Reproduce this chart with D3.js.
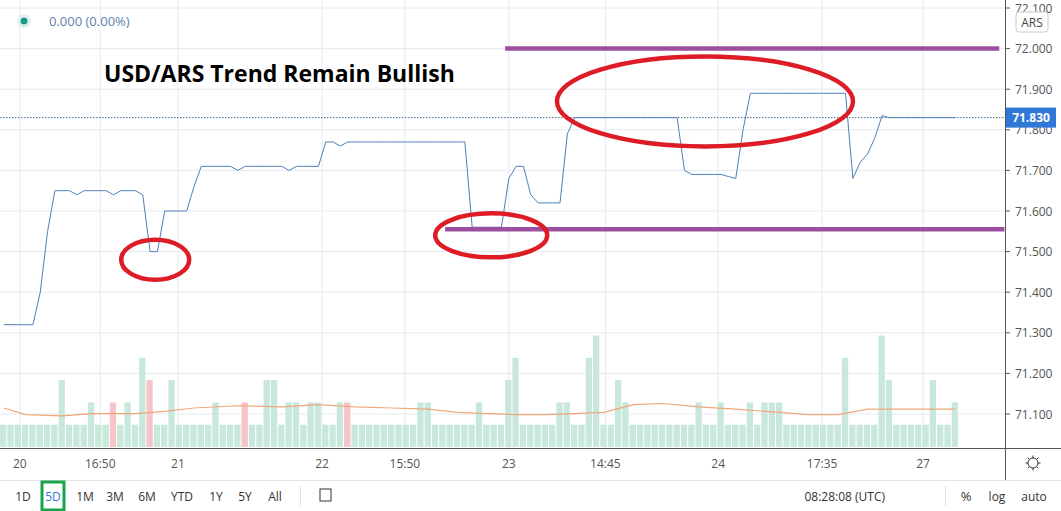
<!DOCTYPE html>
<html>
<head>
<meta charset="utf-8">
<script src="https://cdn.jsdelivr.net/npm/d3@7/dist/d3.min.js"></script>
<style>
  body { margin: 0; background: #fff; font-family: "Open Sans", "DejaVu Sans", sans-serif; }
  svg text { font-family: "Open Sans", "DejaVu Sans", sans-serif; }
</style>
</head>
<body>
<svg id="chart" width="1061" height="511"></svg>
<script>
// Price per bar (USD/ARS), 131 bars
var price = [
  71.32, 71.32, 71.32, 71.32, 71.32, 71.40, 71.55, 71.65, 71.65, 71.65,
  71.64, 71.65, 71.65, 71.65, 71.65, 71.64, 71.65, 71.65, 71.65, 71.64,
  71.50, 71.50, 71.60, 71.60, 71.60, 71.60, 71.66, 71.71, 71.71, 71.71,
  71.71, 71.71, 71.70, 71.71, 71.71, 71.71, 71.71, 71.71, 71.71, 71.70,
  71.71, 71.71, 71.71, 71.71, 71.77, 71.77, 71.76, 71.77, 71.77, 71.77,
  71.77, 71.77, 71.77, 71.77, 71.77, 71.77, 71.77, 71.77, 71.77, 71.77,
  71.77, 71.77, 71.77, 71.77, 71.56, 71.56, 71.56, 71.56, 71.56, 71.68,
  71.71, 71.71, 71.64, 71.62, 71.62, 71.62, 71.62, 71.79, 71.83, 71.83,
  71.83, 71.83, 71.83, 71.83, 71.83, 71.83, 71.83, 71.83, 71.83, 71.83,
  71.83, 71.83, 71.83, 71.70, 71.69, 71.69, 71.69, 71.69, 71.69, 71.685,
  71.68, 71.80, 71.89, 71.89, 71.89, 71.89, 71.89, 71.89, 71.89, 71.89,
  71.89, 71.89, 71.89, 71.89, 71.89, 71.89, 71.68, 71.72, 71.74, 71.78,
  71.835, 71.83, 71.83, 71.83, 71.83, 71.83, 71.83, 71.83, 71.83, 71.83,
  71.83
];
// Volume: bars not listed are 1
var volumeTall = [
  [8, 3], [12, 2], [15, 2], [17, 2], [19, 4], [20, 3], [23, 3], [29, 2], [33, 2],
  [36, 3], [37, 3], [39, 2], [40, 2], [42, 2], [43, 2], [46, 2], [47, 2], [57, 2],
  [58, 2], [65, 2], [69, 3], [70, 4], [76, 2], [77, 2], [80, 4], [81, 5], [84, 3],
  [85, 2], [95, 2], [98, 2], [102, 2], [104, 2], [105, 2], [106, 2], [115, 4],
  [120, 5], [121, 3], [127, 3], [130, 2]
];
var downBars = [15, 20, 33, 47];
// Volume moving average [bar, volume units]
var volumeMA = [
  [0, 1.75], [3, 1.45], [8, 1.4], [12, 1.5], [18, 1.5], [22, 1.6], [26, 1.75], [32, 1.85],
  [38, 1.8], [43, 1.9], [48, 1.8], [53, 1.75], [58, 1.7], [62, 1.55], [66, 1.5], [70, 1.45],
  [74, 1.45], [78, 1.5], [82, 1.55], [86, 1.9], [90, 1.95], [95, 1.8], [100, 1.7], [106, 1.55],
  [110, 1.45], [114, 1.45], [118, 1.7], [122, 1.7], [126, 1.7], [130, 1.7]
];
var priceTicks = [72.1, 72.0, 71.9, 71.8, 71.7, 71.6, 71.5, 71.4, 71.3, 71.2, 71.1];
var timeTicks = [
  [2.2, '20'], [13.2, '16:50'], [23.8, '21'], [43.5, '22'], [54.8, '15:50'],
  [69, '23'], [82.2, '14:45'], [97.6, '24'], [111.8, '17:35'], [125.6, '27']
];
var lastPrice = 71.83;
var resistance = { value: 72.0, from: 68.5, to: 136 };
var support = { value: 71.555, from: 60.3, to: 136.7 };
// Annotations [bar, price, rx, ry]
var circles = [[20.7, 71.48, 34, 20], [66.6, 71.54, 56, 22], [95.8, 71.87, 148, 45]];
var ranges = ['1D', '5D', '1M', '3M', '6M', 'YTD', '1Y', '5Y', 'All'];

var svg = d3.select('#chart');
var axisX = 1005;

var x = d3.scaleLinear().domain([-0.5, 130.5]).range([0, 959]);
var y = d3.scaleLinear().domain([71.1, 72.1]).range([414, 8]);
var yVol = d3.scaleLinear().domain([0, 5]).range([447, 335.5]);

// Grid
var grid = svg.append('g').attr('stroke', '#e6eaf0').attr('stroke-width', 1);
priceTicks.forEach(function(t) {
  grid.append('line').attr('x1', 0).attr('x2', axisX).attr('y1', y(t)).attr('y2', y(t));
});
timeTicks.forEach(function(t) {
  grid.append('line').attr('x1', x(t[0])).attr('x2', x(t[0])).attr('y1', 0).attr('y2', 448);
});

// Volume bars
var volume = price.map(function() { return 1; });
volumeTall.forEach(function(d) { volume[d[0]] = d[1]; });
var bw = x(1) - x(0);
svg.append('g').selectAll('rect').data(volume).join('rect')
  .attr('x', function(d, i) { return x(i) - bw / 2; })
  .attr('width', bw - 1)
  .attr('y', function(d) { return yVol(d); })
  .attr('height', function(d) { return yVol(0) - yVol(d); })
  .attr('fill', function(d, i) { return downBars.indexOf(i) >= 0 ? '#f7c5c9' : '#c9e8dc'; });

svg.append('path').datum(volumeMA)
  .attr('fill', 'none').attr('stroke', '#f0a878').attr('stroke-width', 1.2)
  .attr('d', d3.line().x(function(d) { return x(d[0]); }).y(function(d) { return yVol(d[1]); }));

// Last price dotted line
svg.append('line').attr('x1', 0).attr('x2', axisX).attr('y1', y(lastPrice)).attr('y2', y(lastPrice))
  .attr('stroke', '#3d6a8c').attr('stroke-dasharray', '1.5,1.5');

// Price line
svg.append('path').datum(price)
  .attr('fill', 'none').attr('stroke', '#4f80b8').attr('stroke-width', 1)
  .attr('d', d3.line().x(function(d, i) { return x(i); }).y(function(d) { return y(d); }));

// Support / resistance
[resistance, support].forEach(function(l) {
  svg.append('line').attr('x1', x(l.from)).attr('x2', x(l.to)).attr('y1', y(l.value)).attr('y2', y(l.value))
    .attr('stroke', '#9b4f9e').attr('stroke-width', 4.5);
});

// Red ellipses
svg.append('g').selectAll('ellipse').data(circles).join('ellipse')
  .attr('cx', function(d) { return x(d[0]); })
  .attr('cy', function(d) { return y(d[1]); })
  .attr('rx', function(d) { return d[2]; })
  .attr('ry', function(d) { return d[3]; })
  .attr('fill', 'none').attr('stroke', '#dd1c26').attr('stroke-width', 4.5);

// Title & legend
svg.append('text').attr('x', 104).attr('y', 82).attr('font-size', 23).attr('font-weight', 'bold')
  .attr('fill', '#000').text('USD/ARS Trend Remain Bullish');
svg.append('circle').attr('cx', 24).attr('cy', 21).attr('r', 7).attr('fill', '#e0f2ef');
svg.append('circle').attr('cx', 24).attr('cy', 21).attr('r', 3.5).attr('fill', '#1a9a84');
svg.append('text').attr('x', 49).attr('y', 26).attr('font-size', 13).attr('fill', '#5f7fb0').text('0.000 (0.00%)');

// Right price axis
svg.append('rect').attr('x', axisX).attr('y', 0).attr('width', 56).attr('height', 480).attr('fill', '#fff');
svg.append('line').attr('x1', axisX + 0.5).attr('x2', axisX + 0.5).attr('y1', 0).attr('y2', 480)
  .attr('stroke', '#555');
var yAxis = svg.append('g');
priceTicks.forEach(function(t) {
  yAxis.append('line').attr('x1', axisX).attr('x2', axisX + 5).attr('y1', y(t)).attr('y2', y(t)).attr('stroke', '#555');
  yAxis.append('text').attr('x', axisX + 10).attr('y', y(t) + 4.5).attr('font-size', 12).attr('fill', '#555')
    .text(d3.format('.3f')(t));
});
svg.append('rect').attr('x', 1016).attr('y', 12).attr('width', 32).attr('height', 20).attr('rx', 3)
  .attr('fill', '#fff').attr('stroke', '#ccc');
svg.append('text').attr('x', 1032).attr('y', 27).attr('text-anchor', 'middle').attr('font-size', 12)
  .attr('fill', '#444').text('ARS');
svg.append('rect').attr('x', axisX + 1).attr('y', y(lastPrice) - 10).attr('width', 50).attr('height', 20)
  .attr('fill', '#2f78d8');
svg.append('text').attr('x', axisX + 26).attr('y', y(lastPrice) + 4.5).attr('text-anchor', 'middle')
  .attr('font-size', 12).attr('font-weight', 'bold').attr('fill', '#fff').text(d3.format('.3f')(lastPrice));

// Time axis
svg.append('line').attr('x1', 0).attr('x2', 1061).attr('y1', 448.5).attr('y2', 448.5).attr('stroke', '#555');
svg.append('g').selectAll('text').data(timeTicks).join('text')
  .attr('x', function(d) { return x(d[0]); }).attr('y', 468)
  .attr('text-anchor', 'middle').attr('font-size', 12).attr('fill', '#555')
  .text(function(d) { return d[1]; });
// gear
var gear = svg.append('g').attr('transform', 'translate(1033,463)').attr('stroke', '#333').attr('fill', 'none');
gear.append('circle').attr('r', 5);
d3.range(8).forEach(function(k) {
  var a = k * Math.PI / 4;
  gear.append('line').attr('x1', 5 * Math.cos(a)).attr('y1', 5 * Math.sin(a))
    .attr('x2', 7.5 * Math.cos(a)).attr('y2', 7.5 * Math.sin(a));
});

// Bottom toolbar
svg.append('line').attr('x1', 0).attr('x2', 1061).attr('y1', 480.5).attr('y2', 480.5).attr('stroke', '#e0e3eb');
var rx = [23, 53, 85, 115, 147, 182, 216, 245, 275];
ranges.forEach(function(r, i) {
  svg.append('text').attr('x', rx[i]).attr('y', 501).attr('text-anchor', 'middle').attr('font-size', 12)
    .attr('fill', r === '5D' ? '#2f78d8' : '#333').text(r);
});
svg.append('rect').attr('x', 42).attr('y', 482).attr('width', 22).attr('height', 28)
  .attr('fill', 'none').attr('stroke', '#1aa34a').attr('stroke-width', 3);
svg.append('line').attr('x1', 300.5).attr('x2', 300.5).attr('y1', 486).attr('y2', 506).attr('stroke', '#e0e3eb');
svg.append('rect').attr('x', 320).attr('y', 489).attr('width', 11).attr('height', 12).attr('fill', 'none').attr('stroke', '#333');
svg.append('text').attr('x', 885).attr('y', 501).attr('text-anchor', 'end').attr('font-size', 12).attr('fill', '#333').text('08:28:08 (UTC)');
svg.append('line').attr('x1', 945.5).attr('x2', 945.5).attr('y1', 486).attr('y2', 506).attr('stroke', '#e0e3eb');
svg.append('text').attr('x', 966).attr('y', 501).attr('text-anchor', 'middle').attr('font-size', 13).attr('fill', '#333').text('%');
svg.append('text').attr('x', 997).attr('y', 501).attr('text-anchor', 'middle').attr('font-size', 12).attr('fill', '#333').text('log');
svg.append('text').attr('x', 1034).attr('y', 501).attr('text-anchor', 'middle').attr('font-size', 12).attr('fill', '#333').text('auto');
</script>
</body>
</html>
